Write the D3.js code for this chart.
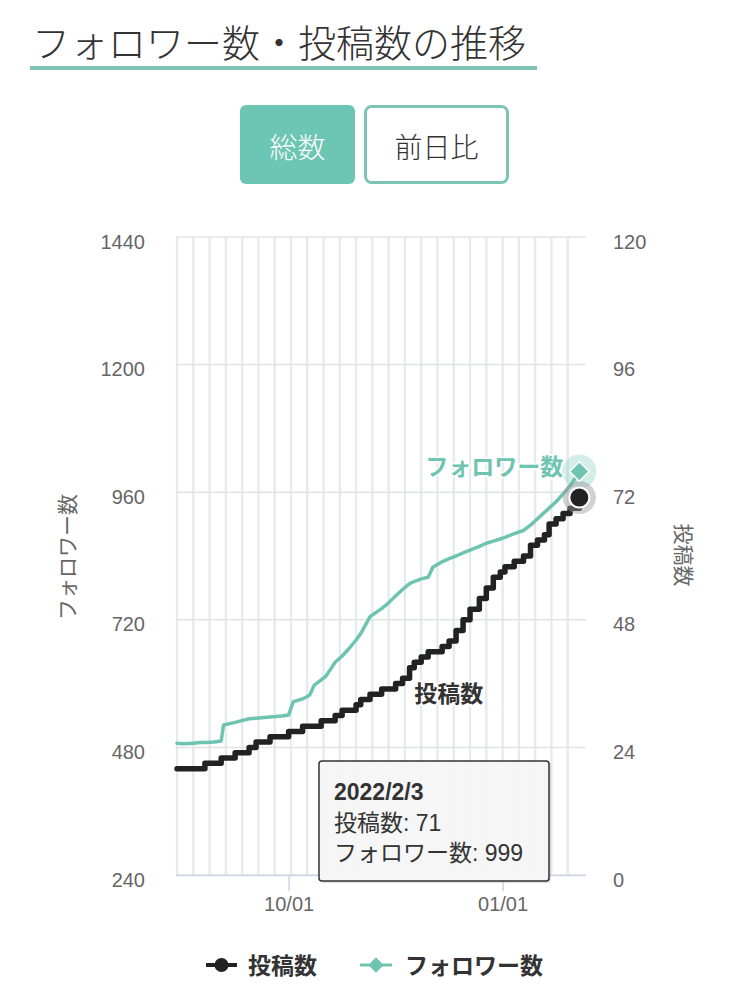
<!DOCTYPE html>
<html>
<head>
<meta charset="utf-8">
<script src="https://cdn.jsdelivr.net/npm/d3@7"></script>
<style>
  body { margin: 0; background: #fff; }
  svg text { font-family: "Liberation Sans", "Noto Sans CJK JP", sans-serif; }
  .jp { font-family: "Noto Sans CJK JP", sans-serif; }
</style>
</head>
<body>
<svg id="chart"></svg>
<script>

// data
var dates = ["2021-08-14","2021-08-17","2021-08-21","2021-08-24","2021-08-26","2021-08-30","2021-09-02","2021-09-03","2021-09-08","2021-09-14",
  "2021-09-17","2021-09-23","2021-09-28","2021-10-01","2021-10-03","2021-10-07","2021-10-10","2021-10-12","2021-10-15","2021-10-17",
  "2021-10-21","2021-10-24","2021-10-27","2021-10-30","2021-11-01","2021-11-05","2021-11-07","2021-11-10","2021-11-13","2021-11-16",
  "2021-11-19","2021-11-22","2021-11-24","2021-11-27","2021-11-30","2021-12-02","2021-12-06","2021-12-09","2021-12-12","2021-12-15",
  "2021-12-18","2021-12-22","2021-12-25","2021-12-28","2021-12-31","2022-01-02","2022-01-06","2022-01-10","2022-01-13","2022-01-16",
  "2022-01-19","2022-01-21","2022-01-24","2022-01-27","2022-01-30","2022-02-01","2022-02-03"];
var postCounts = [20,20,20,20,21,21,22,22,23,24, 25,26,26,27,27,28,28,28,29,29,
  30,31,31,32,33,34,34,35,35,36, 37,39,40,41,42,42,43,44,46,48,
  50,52,54,56,57,58,59,60,62,63, 64,66,67,68,69,69,71];
var followerCounts = [488,487,488,489,489,490,492,522,527,534, 535,537,539,541,566,571,578,597,607,614,
  640,652,666,682,694,726,732,741,752,765, 777,788,792,797,800,819,829,835,840,846,
  851,858,864,868,872,875,882,888,898,910, 922,930,942,957,972,985,999];
var followerTicks = [240, 480, 720, 960, 1200, 1440];
var postTicks = [0, 24, 48, 72, 96, 120];
var xTickDates = ["2021-10-01", "2022-01-01"];
var xDomain = ["2021-08-14", "2022-02-05"];

var teal = "#6fc4b1";
var dark = "#222";
var W = 745, H = 999;
var plotLeft = 176, plotRight = 586, plotTop = 237, plotBottom = 875;

var parseDate = d3.timeParse("%Y-%m-%d");
var data = dates.map(function(d, i) {
  return { date: parseDate(d), posts: postCounts[i], followers: followerCounts[i] };
});
var last = data[data.length - 1];

var svg = d3.select("#chart").attr("width", W).attr("height", H);

// title + underline
svg.append("text").attr("class", "jp")
  .attr("x", 32).attr("y", 57)
  .attr("font-size", 38).attr("font-weight", 300).attr("fill", "#333")
  .text("フォロワー数・投稿数の推移");
svg.append("rect").attr("x", 30).attr("y", 66).attr("width", 507).attr("height", 4).attr("fill", "#7cc5b5");

// buttons
svg.append("rect").attr("x", 240).attr("y", 105).attr("width", 115).attr("height", 79).attr("rx", 6).attr("fill", "#6dc6b3");
svg.append("text").attr("class", "jp").attr("x", 297.5).attr("y", 146)
  .attr("text-anchor", "middle").attr("dominant-baseline", "central")
  .attr("font-size", 28).attr("font-weight", 300).attr("fill", "#fff").text("総数");
svg.append("rect").attr("x", 365.5).attr("y", 106.5).attr("width", 142).attr("height", 76).attr("rx", 6)
  .attr("fill", "#fff").attr("stroke", "#7cc5b5").attr("stroke-width", 3);
svg.append("text").attr("class", "jp").attr("x", 436.5).attr("y", 146)
  .attr("text-anchor", "middle").attr("dominant-baseline", "central")
  .attr("font-size", 28).attr("font-weight", 300).attr("fill", "#333").text("前日比");

// scales
var x = d3.scaleTime().domain(xDomain.map(parseDate)).range([177, 584]);
var yF = d3.scaleLinear().domain([240, 1440]).range([plotBottom, plotTop]);
var yP = d3.scaleLinear().domain([0, 120]).range([plotBottom, plotTop]);

// weekly bands (saturdays)
var saturdays = d3.timeSaturday.range(parseDate(xDomain[0]), parseDate(xDomain[1]));
svg.append("g").selectAll("rect").data(saturdays).enter().append("rect")
  .attr("x", function(d) { return x(d3.timeHour.offset(d, -12)); })
  .attr("width", function(d) { return x(d3.timeHour.offset(d, 12)) - x(d3.timeHour.offset(d, -12)); })
  .attr("y", plotTop).attr("height", plotBottom - plotTop)
  .attr("fill", "#e3ebf0");

// horizontal grid
svg.append("g").selectAll("line").data(followerTicks).enter().append("line")
  .attr("x1", plotLeft).attr("x2", plotRight)
  .attr("y1", function(d) { return yF(d); }).attr("y2", function(d) { return yF(d); })
  .attr("stroke", "#e3e3e3").attr("stroke-width", 1.5);

// left axis
var gl = svg.append("g").attr("transform", "translate(" + plotLeft + ",0)")
  .call(d3.axisLeft(yF).tickValues(followerTicks).tickFormat(d3.format("d")).tickSize(0).tickPadding(31));
gl.select(".domain").remove();
gl.selectAll("text").attr("font-size", 20).attr("fill", "#666").attr("dy", "0.55em")
  .style("font-family", "Liberation Sans, sans-serif");

// right axis
var gr = svg.append("g").attr("transform", "translate(" + plotRight + ",0)")
  .call(d3.axisRight(yP).tickValues(postTicks).tickFormat(d3.format("d")).tickSize(0).tickPadding(27));
gr.select(".domain").remove();
gr.selectAll("text").attr("font-size", 20).attr("fill", "#666").attr("dy", "0.55em")
  .style("font-family", "Liberation Sans, sans-serif");

// x axis
var gx = svg.append("g").attr("transform", "translate(0," + plotBottom + ")")
  .call(d3.axisBottom(x).tickValues(xTickDates.map(parseDate)).tickFormat(d3.timeFormat("%m/%d")).tickSize(16).tickPadding(6));
gx.select(".domain").attr("d", "M" + plotLeft + ",0.5H" + plotRight).attr("stroke", "#ccd6eb").attr("stroke-width", 1.5);
gx.selectAll(".tick line").attr("stroke", "#ccd6eb").attr("stroke-width", 1.5);
gx.selectAll("text").attr("font-size", 20).attr("fill", "#666")
  .style("font-family", "Liberation Sans, sans-serif");

// axis titles
svg.append("text").attr("class", "jp")
  .attr("transform", "translate(75,557) rotate(-90)")
  .attr("text-anchor", "middle").attr("font-size", 21).attr("fill", "#666")
  .text("フォロワー数");
svg.append("text").attr("class", "jp")
  .attr("transform", "translate(676,555) rotate(90)")
  .attr("text-anchor", "middle").attr("font-size", 21).attr("fill", "#666")
  .text("投稿数");

// lines
var followerLine = d3.line()
  .x(function(d) { return x(d.date); })
  .y(function(d) { return yF(d.followers); });
var postLine = d3.line()
  .curve(d3.curveStepAfter)
  .x(function(d) { return x(d.date); })
  .y(function(d) { return yP(d.posts); });

svg.append("path").datum(data)
  .attr("fill", "none").attr("stroke", teal).attr("stroke-width", 3.5)
  .attr("stroke-linejoin", "round").attr("stroke-linecap", "round")
  .attr("d", followerLine);
svg.append("path").datum(data)
  .attr("fill", "none").attr("stroke", dark).attr("stroke-width", 5.5)
  .attr("stroke-linejoin", "round").attr("stroke-linecap", "round")
  .attr("d", postLine);

// hover markers at last point
var lx = x(last.date);
svg.append("circle").attr("cx", lx).attr("cy", yF(last.followers)).attr("r", 17)
  .attr("fill", teal).attr("opacity", 0.3);
svg.append("circle").attr("cx", lx).attr("cy", yP(last.posts)).attr("r", 16.5)
  .attr("fill", "#999").attr("opacity", 0.45);
svg.append("path")
  .attr("transform", "translate(" + lx + "," + yF(last.followers) + ")")
  .attr("d", d3.symbol(d3.symbolDiamond2, 240)())
  .attr("fill", teal).attr("stroke", "#fff").attr("stroke-width", 1.5);
svg.append("circle").attr("cx", lx).attr("cy", yP(last.posts)).attr("r", 10)
  .attr("fill", dark).attr("stroke", "#fff").attr("stroke-width", 2);

// series labels
svg.append("text").attr("class", "jp")
  .attr("x", lx - 16).attr("y", yF(last.followers) + 4)
  .attr("text-anchor", "end").attr("font-size", 23).attr("font-weight", 700)
  .attr("fill", teal).attr("stroke", "#fff").attr("stroke-width", 3).attr("paint-order", "stroke")
  .text("フォロワー数");
svg.append("text").attr("class", "jp")
  .attr("x", x(parseDate("2021-11-24"))).attr("y", 702)
  .attr("font-size", 23).attr("font-weight", 700)
  .attr("fill", "#333").attr("stroke", "#fff").attr("stroke-width", 3).attr("paint-order", "stroke")
  .text("投稿数");

// tooltip
var tip = svg.append("g").attr("transform", "translate(319,761)");
tip.append("rect").attr("x", 2).attr("y", 2).attr("width", 230).attr("height", 120).attr("rx", 3)
  .attr("fill", "#000").attr("opacity", 0.12);
tip.append("rect").attr("width", 230).attr("height", 120).attr("rx", 3)
  .attr("fill", "#f7f7f7").attr("fill-opacity", 0.96).attr("stroke", "#333").attr("stroke-width", 1.5);
tip.append("text").attr("x", 15).attr("y", 39).attr("font-size", 23).attr("font-weight", 700).attr("fill", "#333")
  .text(d3.timeFormat("%Y/%-m/%-d")(last.date));
tip.append("text").attr("x", 15).attr("y", 70).attr("font-size", 23).attr("fill", "#333")
  .text("投稿数: " + last.posts);
tip.append("text").attr("x", 15).attr("y", 100).attr("font-size", 23).attr("fill", "#333")
  .text("フォロワー数: " + last.followers);

// legend
var lg = svg.append("g").attr("transform", "translate(0,965)");
lg.append("line").attr("x1", 206).attr("x2", 237).attr("stroke", dark).attr("stroke-width", 4);
lg.append("circle").attr("cx", 221.5).attr("r", 7).attr("fill", dark);
lg.append("text").attr("class", "jp").attr("x", 248).attr("y", 9)
  .attr("font-size", 23).attr("font-weight", 700).attr("fill", "#333").text("投稿数");
lg.append("line").attr("x1", 360).attr("x2", 392).attr("stroke", teal).attr("stroke-width", 3);
lg.append("path").attr("transform", "translate(376,0)")
  .attr("d", d3.symbol(d3.symbolDiamond2, 150)()).attr("fill", teal);
lg.append("text").attr("class", "jp").attr("x", 405).attr("y", 9)
  .attr("font-size", 23).attr("font-weight", 700).attr("fill", "#333").text("フォロワー数");

</script>
</body>
</html>
